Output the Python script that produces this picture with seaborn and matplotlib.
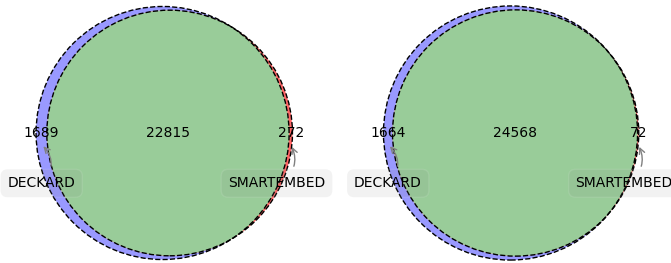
import numpy as np
import matplotlib
matplotlib.use("Agg")
import matplotlib.pyplot as plt
import seaborn as sns
from matplotlib.patches import Circle

# ---------------- data ----------------
set_names = ["DECKARD", "SMARTEMBED"]
only_deckard = [1689, 1664]
shared = [22815, 24568]
only_smartembed = [272, 72]

# ---------------- style ----------------
sns.set_theme(style="white")
plt.rcParams['font.family'] = ['DejaVu Sans']

W, H, DPI = 671, 263, 100
SCALE = 225.5            # pixels per normalized unit
ORIGIN_Y = 130           # pixels from bottom
panels_px = [(0, 340), (340, 671)]
origin_x = [166, 513]
COL_A = '#9999ff'
COL_B = '#ff6666'
COL_AB = '#99cc99'


def lens_area(r1, r2, d):
    if d >= r1 + r2:
        return 0.0
    if d <= abs(r1 - r2):
        return np.pi * min(r1, r2) ** 2
    a1 = r1 ** 2 * np.arccos((d ** 2 + r1 ** 2 - r2 ** 2) / (2 * d * r1))
    a2 = r2 ** 2 * np.arccos((d ** 2 + r2 ** 2 - r1 ** 2) / (2 * d * r2))
    a3 = 0.5 * np.sqrt((-d + r1 + r2) * (d + r1 - r2) * (d - r1 + r2) * (d + r1 + r2))
    return a1 + a2 - a3


def solve(a_only, b_only, ab):
    total = float(a_only + b_only + ab)
    A = (a_only + ab) / total
    B = (b_only + ab) / total
    AB = ab / total
    ra, rb = np.sqrt(A / np.pi), np.sqrt(B / np.pi)
    lo, hi = abs(ra - rb) + 1e-12, ra + rb
    for _ in range(200):
        mid = 0.5 * (lo + hi)
        if lens_area(ra, rb, mid) > AB:
            lo = mid
        else:
            hi = mid
    d = 0.5 * (lo + hi)
    c = B * d / (A + B)
    return (-c, ra), (d - c, rb)


fig = plt.figure(figsize=(W / DPI, H / DPI), dpi=DPI)

for i in range(2):
    x0, x1 = panels_px[i]
    ax = fig.add_axes([x0 / W, 0, (x1 - x0) / W, 1])
    ax.set_xlim((x0 - origin_x[i]) / SCALE, (x1 - origin_x[i]) / SCALE)
    ax.set_ylim(-ORIGIN_Y / SCALE, (H - ORIGIN_Y) / SCALE)
    ax.set_axis_off()

    (xa, ra), (xb, rb) = solve(only_deckard[i], only_smartembed[i], shared[i])

    circ_a = Circle((xa, 0), ra, facecolor=COL_A, edgecolor='none', zorder=1)
    circ_b = Circle((xb, 0), rb, facecolor=COL_B, edgecolor='none', zorder=2)
    ax.add_patch(circ_a)
    ax.add_patch(circ_b)
    clip = Circle((xa, 0), ra, transform=ax.transData)
    inter = Circle((xb, 0), rb, facecolor=COL_AB, edgecolor='none', zorder=3)
    ax.add_patch(inter)
    inter.set_clip_path(clip)

    for (xc, r) in [(xa, ra), (xb, rb)]:
        ax.add_patch(Circle((xc, 0), r, fill=False, edgecolor='black',
                            linestyle='dashed', linewidth=1.0, zorder=4))

    pos10 = ((xa - ra) + (xb - rb)) / 2
    pos01 = ((xa + ra) + (xb + rb)) / 2
    pos11 = ((xb - rb) + (xa + ra)) / 2
    for px, val in [(pos10, only_deckard[i]), (pos11, shared[i]), (pos01, only_smartembed[i])]:
        ax.text(px, 0, f"{val}", ha='center', va='center', fontsize=10,
                color='black', zorder=5)

    for name, px, off in [(set_names[0], pos10, (0, -39)), (set_names[1], pos01, (-14, -39))]:
        ann = ax.annotate(name, xy=(px, -0.05), xytext=off, textcoords='offset pixels',
                          ha='center', va='center', fontsize=10, color='black', zorder=6,
                          bbox=dict(boxstyle='round,pad=0.5', fc='gray', alpha=0.1),
                          arrowprops=dict(arrowstyle='->', connectionstyle='arc3,rad=0.5',
                                          color='gray'),
                          annotation_clip=False)
        ann.set_clip_on(False)

fig.savefig("out.png", dpi=DPI)
